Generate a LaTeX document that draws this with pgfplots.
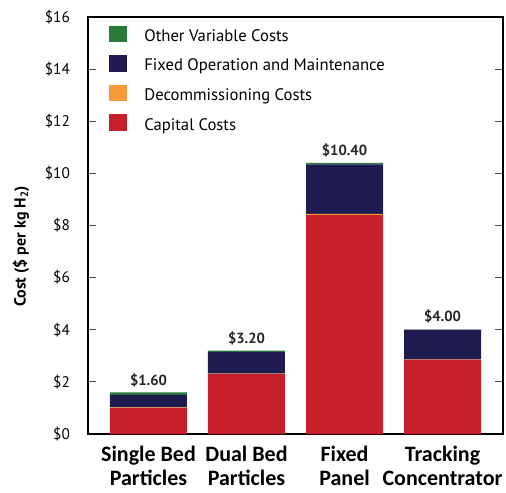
\documentclass[border=0pt]{standalone}
\usepackage{fontspec}
\setmainfont{PT Sans}
\newfontfamily\catfont{Carlito}
\usepackage{pgfplots}
\pgfplotsset{compat=1.18}
\definecolor{capred}{HTML}{C61F2A}
\definecolor{omnavy}{HTML}{1F1C52}
\definecolor{decorange}{HTML}{F79A3A}
\definecolor{othgreen}{HTML}{2A7A3A}
\begin{document}
\begin{tikzpicture}
\begin{axis}[
  at={(66pt,43.5pt)}, anchor=south west,
  scale only axis,
  width=311.25pt, height=312.75pt,
  ybar stacked,
  bar width=57.75pt,
  xmin=-0.617, xmax=3.617,
  ymin=0, ymax=16,
  xtick={0,1,2,3},
  xticklabels={Single Bed\\Particles, Dual Bed\\Particles, Fixed\\Panel, Tracking\\Concentrator},
  xticklabel style={font=\catfont\bfseries\fontsize{16.5}{18}\selectfont, align=center, yshift=-5.5pt},
  x tick style={draw=none},
  ytick={0,2,...,16},
  yticklabel={\$\pgfmathprintnumber{\tick}},
  yticklabel style={font=\fontsize{11.5}{13}\selectfont, anchor=east, xshift=-10pt},
  /pgf/number format/assume math mode=true,
  tick align=inside,
  ytick pos=both,
  major tick length=6pt,
  y tick style={black!70, line width=0.6pt},
  axis line style={line width=1.3pt},
  ylabel={\bfseries Cost (\$ per kg H\textsubscript{2})},
  ylabel style={font=\fontsize{12}{13}\selectfont, at={(axis description cs:-0.1615,0.45)}, anchor=center},
  legend style={draw=none, fill=none, inner sep=0pt, at={(0.05,0.98)}, anchor=north west,
    font=\fontsize{12.5}{14}\selectfont, row sep=7pt, legend cell align=left,
    nodes={inner xsep=13pt}},
  legend image code/.code={\fill[#1] (-5pt,-4.5pt) rectangle (8.5pt,8pt);},
  reverse legend,
  every node near coord/.append style={font=\bfseries\fontsize{11}{13}\selectfont, black!85, anchor=south, yshift=1.5pt},
]
\addplot[draw=none, fill=capred] coordinates {(0,1.00) (1,2.30) (2,8.40) (3,2.85)};
\addlegendentry{Capital Costs}
\addplot[draw=none, fill=decorange] coordinates {(0,0.02) (1,0.02) (2,0.05) (3,0.01)};
\addlegendentry{Decommissioning Costs}
\addplot[draw=none, fill=omnavy] coordinates {(0,0.48) (1,0.83) (2,1.90) (3,1.14)};
\addlegendentry{Fixed Operation and Maintenance}
\addplot[draw=none, fill=othgreen, nodes near coords, point meta=explicit symbolic]
  coordinates {(0,0.10) [\$1.60] (1,0.05) [\$3.20] (2,0.05) [\$10.40] (3,0.001) [\$4.00]};
\addlegendentry{Other Variable Costs}
\end{axis}
\pgfresetboundingbox
\useasboundingbox (0,0) rectangle (379.5pt,369pt);
\end{tikzpicture}
\end{document}
